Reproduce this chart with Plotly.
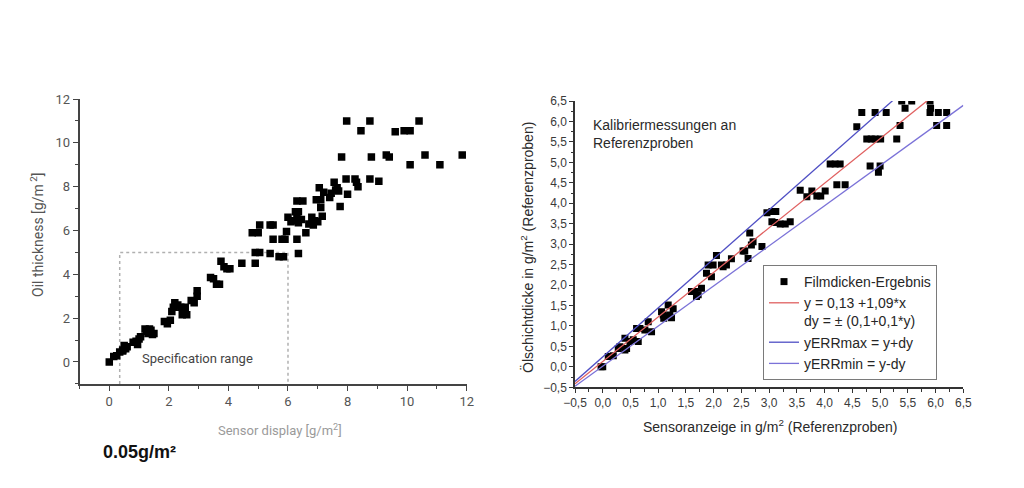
import plotly.graph_objects as go

# ---------------- data ----------------
# Left chart: Oil thickness vs sensor display
left_x = [0.0, 0.15, 0.25, 0.35, 0.45, 0.5, 0.55, 0.45, 0.6, 0.8, 0.9, 1.0, 1.05, 0.95,
          1.2, 1.25, 1.35, 1.4, 1.3, 1.5, 1.45, 1.85, 1.95, 2.05, 2.1, 2.15, 2.2, 2.3,
          2.4, 2.55, 2.45, 2.6, 2.75, 2.85, 2.95, 2.95, 3.4, 3.5, 3.6, 3.7, 3.75, 3.85,
          3.95, 4.05, 4.45, 4.8, 5.0, 5.05, 4.9, 4.9, 5.05, 5.4, 5.4, 5.5, 5.5, 5.7,
          5.85, 5.8, 5.9, 5.95, 6.0, 6.1, 6.2, 6.3, 6.35, 6.25, 6.35, 6.3, 6.5, 6.3,
          6.35, 6.45, 6.6, 6.7, 6.8, 6.9, 6.85, 6.95, 7.05, 7.1, 7.1, 7.15, 7.0, 7.2,
          7.4, 7.45, 7.55, 7.6, 7.65, 7.7, 7.75, 7.8, 7.97, 7.95, 8.0, 8.25, 8.3, 8.35,
          8.45, 8.75, 8.75, 8.8, 9.05, 9.3, 9.4, 9.6, 9.9, 10.1, 10.1, 10.4, 10.6,
          11.1, 11.85]
left_y = [0.0, 0.25, 0.28, 0.45, 0.55, 0.75, 0.6, 0.5, 0.7, 0.9, 0.95, 1.05, 1.15, 0.8,
          1.5, 1.4, 1.5, 1.45, 1.3, 1.3, 1.25, 1.85, 1.75, 1.9, 2.3, 2.5, 2.7, 2.6,
          2.5, 2.5, 2.15, 2.15, 2.8, 2.7, 3.0, 3.25, 3.85, 3.8, 3.55, 3.55, 4.6, 4.35,
          4.25, 4.25, 4.5, 5.9, 5.9, 6.25, 4.5, 5.0, 5.0, 4.95, 6.25, 6.25, 5.6, 4.8,
          4.8, 5.6, 5.6, 5.95, 6.6, 6.4, 6.45, 6.55, 6.35, 6.85, 6.85, 7.35, 7.35, 5.6,
          4.95, 6.5, 5.9, 6.3, 6.6, 6.45, 6.25, 7.4, 7.95, 7.4, 7.05, 6.65, 6.4, 7.75,
          7.5, 7.7, 8.2, 7.85, 7.95, 7.8, 7.1, 9.35, 11.0, 8.35, 7.65, 8.35, 8.2, 8.0,
          10.55, 11.0, 8.35, 9.35, 8.25, 9.45, 9.35, 10.5, 10.55, 10.55, 9.0, 11.0, 9.45,
          9.0, 9.45]
spec_x = [0.35, 0.35, 6.0, 6.0]
spec_y = [-1.0, 5.0, 5.0, -1.0]
left_ticks = [0, 2, 4, 6, 8, 10, 12]

# Right chart: calibration measurements
right_x = [0.0, -0.03, 0.10, 0.19, 0.28, 0.31, 0.40, 0.40, 0.43, 0.49, 0.55, 0.61, 0.67,
           0.64, 0.76, 0.82, 0.88, 1.06, 1.09, 1.10, 1.15, 1.18, 1.21, 1.24, 1.27, 1.60,
           1.66, 1.72, 1.78, 1.69, 1.87, 1.90, 1.96, 1.99, 2.05, 2.14, 2.17, 2.23, 2.32,
           2.53, 2.56, 2.62, 2.65, 2.68, 2.71, 2.87, 2.96, 3.05, 3.12, 3.05, 3.10, 3.20,
           3.29, 3.38, 3.56, 3.68, 3.77, 3.86, 3.93, 4.01, 4.10, 4.19, 4.28, 4.22, 4.37,
           4.58, 4.67, 4.76, 4.84, 4.91, 4.82, 4.91, 4.97, 5.00, 5.01, 5.11, 5.30, 5.36,
           5.39, 5.45, 5.57, 5.90, 5.91, 5.90, 6.05, 6.02, 6.20, 6.20]
right_y = [0.0, 0.0, 0.25, 0.27, 0.45, 0.49, 0.70, 0.41, 0.45, 0.62, 0.66, 0.94, 0.94,
           0.62, 0.90, 1.10, 0.86, 1.35, 1.27, 1.19, 1.23, 1.51, 1.27, 1.20, 1.42, 1.84,
           1.84, 1.76, 1.92, 1.72, 2.29, 2.49, 2.20, 2.49, 2.72, 2.49, 2.45, 2.49, 2.64,
           2.83, 2.83, 2.65, 3.27, 2.98, 3.06, 2.94, 3.77, 3.80, 3.80, 3.55, 3.53, 3.49,
           3.49, 3.55, 4.32, 4.16, 4.30, 4.18, 4.18, 4.30, 4.96, 4.96, 4.96, 4.45, 4.45,
           5.87, 6.22, 5.57, 5.57, 5.57, 4.91, 6.22, 4.76, 4.91, 5.57, 6.22, 5.57, 5.90,
           6.50, 6.32, 6.50, 6.50, 6.32, 6.22, 6.22, 5.90, 6.22, 5.90]
fit_a, fit_b = 0.13, 1.09          # y = 0,13 + 1,09*x
dy_abs, dy_rel = 0.1, 0.1          # dy = ±(0,1 + 0,1*y)
line_x = [-0.5, 6.5]
right_ticks = [-0.5, 0.0, 0.5, 1.0, 1.5, 2.0, 2.5, 3.0, 3.5, 4.0, 4.5, 5.0, 5.5, 6.0, 6.5]

fit_y = [fit_a + fit_b * x for x in line_x]
max_y = [y + (dy_abs + dy_rel * y) for y in fit_y]
min_y = [y - (dy_abs + dy_rel * y) for y in fit_y]

# ---------------- figure ----------------
W, H = 1024, 488
def px(v): return v / W
def py(v): return 1 - v / H

fig = go.Figure()

fig.add_trace(go.Scatter(x=spec_x, y=spec_y, mode="lines", xaxis="x", yaxis="y",
                         line=dict(color="#b0b0b0", width=1.5, dash="dot"),
                         showlegend=False, hoverinfo="skip"))
fig.add_trace(go.Scatter(x=left_x, y=left_y, mode="markers", xaxis="x", yaxis="y",
                         marker=dict(symbol="square", size=7.5, color="#000000"),
                         showlegend=False))

fig.add_trace(go.Scatter(x=right_x, y=right_y, mode="markers", xaxis="x2", yaxis="y2",
                         name="Filmdicken-Ergebnis",
                         marker=dict(symbol="square", size=7, color="#000000")))
fig.add_trace(go.Scatter(x=line_x, y=fit_y, mode="lines", xaxis="x2", yaxis="y2",
                         name="y = 0,13 +1,09*x<br>dy = ± (0,1+0,1*y)",
                         line=dict(color="#e06060", width=1.3)))
fig.add_trace(go.Scatter(x=line_x, y=max_y, mode="lines", xaxis="x2", yaxis="y2",
                         name="yERRmax = y+dy",
                         line=dict(color="#4f4fc4", width=1.3)))
fig.add_trace(go.Scatter(x=line_x, y=min_y, mode="lines", xaxis="x2", yaxis="y2",
                         name="yERRmin = y-dy",
                         line=dict(color="#7b72d8", width=1.3)))

left_font = dict(family="Liberation Sans Narrow, Roboto, sans-serif", size=13, color="#555555")
right_font = dict(family="Liberation Sans, Arial, sans-serif", size=12, color="#3a3a3a")

common = dict(showgrid=False, zeroline=False, showline=True, ticks="outside",
              mirror=False, fixedrange=True, automargin=False)

fig.update_layout(
    width=W, height=H,
    margin=dict(l=0, r=0, t=0, b=0, pad=0),
    paper_bgcolor="white", plot_bgcolor="white",
    separators=",.",
    xaxis=dict(domain=[px(79.5), px(466.7)], range=[-1, 12], anchor="y",
               tickvals=left_ticks, ticklen=5, tickwidth=1.3, tickcolor="#444444",
               linecolor="#444444", linewidth=1.5, tickfont=left_font,
               minor=dict(dtick=1, tick0=-1, ticks="outside", ticklen=3,
                          tickcolor="#444444", showgrid=False),
               **common),
    yaxis=dict(domain=[py(383.9), py(99)], range=[-1, 12], anchor="x",
               tickvals=left_ticks, ticklen=5, tickwidth=1.3, tickcolor="#444444",
               linecolor="#444444", linewidth=1.5, tickfont=left_font,
               minor=dict(dtick=1, tick0=-1, ticks="outside", ticklen=3,
                          tickcolor="#444444", showgrid=False),
               **common),
    xaxis2=dict(domain=[px(575), px(963.3)], range=[-0.5, 6.5], anchor="y2",
                tickvals=right_ticks, tickformat=".1f", ticklen=4, tickwidth=1.2,
                tickcolor="#333333", linecolor="#333333", linewidth=1.5,
                tickfont=right_font,
                minor=dict(dtick=0.25, tick0=-0.5, ticks="outside", ticklen=2.5,
                           tickcolor="#333333", showgrid=False),
                **common),
    yaxis2=dict(domain=[py(387.3), py(101)], range=[-0.5, 6.5], anchor="x2",
                tickvals=right_ticks, tickformat=".1f", ticklen=4, tickwidth=1.2,
                tickcolor="#333333", linecolor="#333333", linewidth=1.5,
                tickfont=right_font,
                minor=dict(dtick=0.25, tick0=-0.5, ticks="outside", ticklen=2.5,
                           tickcolor="#333333", showgrid=False),
                **common),
    legend=dict(x=px(763), y=py(265), xanchor="left", yanchor="top",
                bgcolor="white", bordercolor="#7a7a7a", borderwidth=1,
                font=dict(family="Liberation Sans, Arial, sans-serif", size=14,
                          color="#262626"),
                itemwidth=30, valign="top", tracegroupgap=0),
)

ann = []
# left chart texts
ann.append(dict(text="Specification range", x=px(197), y=py(358), xref="paper", yref="paper",
                showarrow=False, xanchor="center", yanchor="middle",
                font=dict(family="Liberation Sans Narrow, Roboto, sans-serif", size=13,
                          color="#444444")))
ann.append(dict(text="Sensor display [g/m<sup>2</sup>]", x=px(280), y=py(430),
                xref="paper", yref="paper", showarrow=False, xanchor="center",
                yanchor="middle",
                font=dict(family="Liberation Sans Narrow, Roboto, sans-serif", size=13,
                          color="#9a9a9a")))
ann.append(dict(text="Oil thickness [g/m<sup> 2</sup>]", x=px(37), y=py(235),
                xref="paper", yref="paper", showarrow=False, textangle=-90,
                xanchor="center", yanchor="middle",
                font=dict(family="Liberation Sans Narrow, Roboto, sans-serif", size=14,
                          color="#555555")))
ann.append(dict(text="<b>0.05g/m²</b>", x=px(101), y=py(452), xref="paper", yref="paper",
                showarrow=False, xanchor="left", yanchor="middle",
                font=dict(family="Liberation Sans, Arial, sans-serif", size=18,
                          color="#111111")))
# right chart texts
ann.append(dict(text="Kalibriermessungen an<br>Referenzproben", x=px(591), y=py(115),
                xref="paper", yref="paper", showarrow=False, xanchor="left",
                yanchor="top", align="left",
                font=dict(family="Liberation Sans, Arial, sans-serif", size=14,
                          color="#2a2a2a")))
ann.append(dict(text="Sensoranzeige in g/m<sup>2</sup> (Referenzproben)", x=px(770),
                y=py(426), xref="paper", yref="paper", showarrow=False,
                xanchor="center", yanchor="middle",
                font=dict(family="Liberation Sans, Arial, sans-serif", size=14,
                          color="#2a2a2a")))
ann.append(dict(text="Ölschichtdicke in g/m<sup>2</sup> (Referenzproben)", x=px(527),
                y=py(248), xref="paper", yref="paper", showarrow=False, textangle=-90,
                xanchor="center", yanchor="middle",
                font=dict(family="Liberation Sans, Arial, sans-serif", size=14,
                          color="#2a2a2a")))
fig.update_layout(annotations=ann)

fig.write_html(
    "out.html",
    post_script="document.body.style.margin='0';document.body.style.padding='0';"
                "document.body.style.overflow='hidden';",
)
